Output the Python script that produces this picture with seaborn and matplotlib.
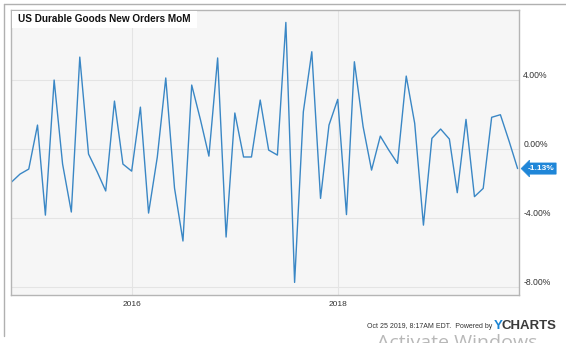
import matplotlib
matplotlib.use("Agg")
import matplotlib.pyplot as plt
import matplotlib.dates as mdates
from matplotlib.lines import Line2D
from matplotlib.patches import Rectangle
import pandas as pd
import seaborn as sns

# ---- data ----
start_month = "2014-10-31"
n_months = 60
values = [
    -1.91, -1.45, -1.16, 1.39, -3.83, 4.00, -0.87, -3.65, 5.33, -0.29,
    -1.33, -2.43, 2.78, -0.87, -1.28, 2.43, -3.71, -0.46, 4.12, -2.26,
    -5.33, 3.71, 1.70, -0.41, 5.28, -5.10, 2.09, -0.46, -0.46, 2.84,
    -0.06, -0.35, 7.34, -7.73, 2.16, 5.64, -2.86, 1.39, 2.88, -3.80,
    5.06, 1.30, -1.22, 0.75, -0.06, -0.83, 4.23, 1.49, -4.41, 0.62,
    1.16, 0.58, -2.53, 1.72, -2.76, -2.28, 1.84, 1.99, 0.45, -1.13,
]
yticks = [4, 0, -4, -8]
ytick_labels = ["4.00%", "0.00%", "-4.00%", "-8.00%"]
title = "US Durable Goods New Orders MoM"
last_label = "-1.13%"
footer = "Oct 25 2019, 8:17AM EDT.  Powered by"

try:
    dates = pd.date_range(start_month, periods=n_months, freq="ME")
except Exception:
    dates = pd.date_range(start_month, periods=n_months, freq="M")
df = pd.DataFrame({"date": dates, "value": values})

# ---- styling ----
sns.set_style("white")
plt.rcParams["font.family"] = ["Liberation Sans", "DejaVu Sans"]

W, H = 566, 343
fig = plt.figure(figsize=(W / 100, H / 100), dpi=100)
fig.patch.set_facecolor("white")

def fx(x):
    return x / W

def fy(y):
    return 1 - y / H

L, R, T, B = 11, 519, 10, 295
ax = fig.add_axes([fx(L), fy(B), fx(R) - fx(L), fy(T) - fy(B)])
ax.set_facecolor("#f6f6f6")

line_color = "#3a87c5"
tag_color = "#1f86d8"

sns.lineplot(data=df, x="date", y="value", ax=ax, color=line_color,
             linewidth=1.0, legend=False)

ax.set_xlim(pd.Timestamp("2014-10-29"), pd.Timestamp("2019-10-05"))
ax.set_ylim(-8.46, 8.06)

ax.set_yticks(yticks)
ax.set_yticklabels(ytick_labels)
ax.yaxis.tick_right()
ax.xaxis.set_major_locator(mdates.YearLocator(base=2))
ax.xaxis.set_major_formatter(mdates.DateFormatter("%Y"))

ax.tick_params(axis="y", length=0, pad=3, labelsize=6.2, labelcolor="#333333")
ax.tick_params(axis="x", length=0, pad=4, labelsize=6.0, labelcolor="#333333")
for lab in ax.get_yticklabels():
    lab.set_verticalalignment("bottom")

ax.grid(True, color="#e4e4e4", linewidth=0.8)
ax.set_axisbelow(True)
ax.set_xlabel("")
ax.set_ylabel("")
for s in ax.spines.values():
    s.set_color("#b5b5b5")
    s.set_linewidth(1.0)

# title in white box
fig.patches.append(Rectangle((fx(11.5), fy(28)), fx(197) - fx(11.5), fy(10.5) - fy(28),
                             transform=fig.transFigure, facecolor="white",
                             edgecolor="none", zorder=3))
fig.text(fx(18), fy(19), title, fontsize=7.2, fontweight="bold", color="#111111",
         ha="left", va="center", zorder=4)

# last-value tag
ax.annotate(last_label, xy=(df["date"].iloc[-1], values[-1]),
            xytext=(7, 0), textcoords="offset points", ha="left", va="center",
            fontsize=6, fontweight="bold", color="white",
            bbox=dict(boxstyle="larrow,pad=0.25", fc=tag_color, ec=tag_color, lw=0.5),
            annotation_clip=False, zorder=5)

# outer frame lines
fig.add_artist(Line2D([fx(4), fx(4)], [fy(4), fy(336)], transform=fig.transFigure,
                      color="#b0b0b0", linewidth=1.0))
fig.add_artist(Line2D([fx(4), fx(566)], [fy(4), fy(4)], transform=fig.transFigure,
                      color="#b0b0b0", linewidth=1.0))

# footer
fig.text(fx(492), fy(326), footer, fontsize=5, color="#333333", ha="right", va="center")
fig.text(fx(494), fy(326), "Y", fontsize=9.5, fontweight="bold", color="#1a84d4",
         ha="left", va="center")
fig.text(fx(502), fy(326), "CHARTS", fontsize=9.5, fontweight="bold", color="#3a3a3a",
         ha="left", va="center")

# screen watermark (cut off at bottom in the reference)
fig.text(fx(377), fy(348), "Activate Windows", fontsize=14, color="#b8b8b8",
         ha="left", va="baseline", family=["Open Sans", "DejaVu Sans"])

fig.savefig("out.png", dpi=100)
